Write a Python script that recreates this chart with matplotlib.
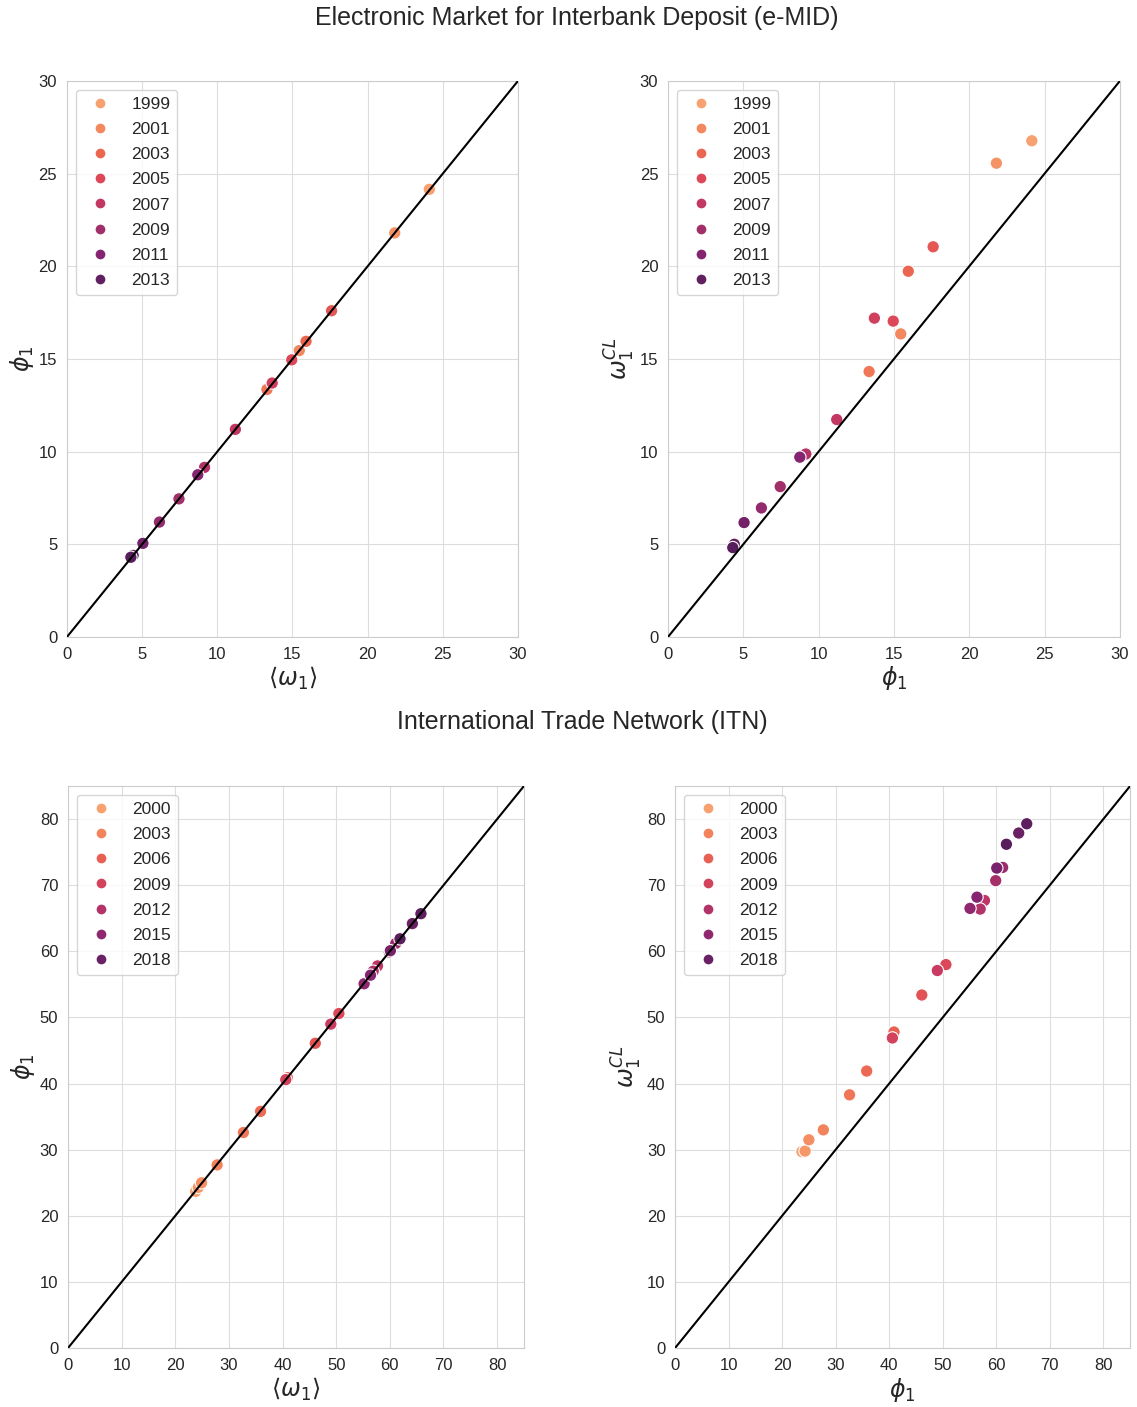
import numpy as np
import matplotlib; matplotlib.use("Agg")
import matplotlib.pyplot as plt
from matplotlib.lines import Line2D
from matplotlib.colors import LinearSegmentedColormap
import seaborn as sns

# e-MID, one point per year
emid_years = list(range(1999, 2015))
emid_omega_mean = [24.1, 21.8, 15.45, 13.3, 15.9, 17.6, 14.95, 13.65, 11.2, 9.15, 7.45, 6.15, 8.7, 5.05, 4.4, 4.25]
emid_phi = [24.15, 21.8, 15.45, 13.35, 15.95, 17.6, 14.95, 13.7, 11.2, 9.15, 7.45, 6.2, 8.75, 5.05, 4.4, 4.3]
emid_omega_cl = [26.77, 25.56, 16.35, 14.32, 19.73, 21.05, 17.04, 17.2, 11.73, 9.87, 8.11, 6.96, 9.7, 6.17, 5.0, 4.82]
emid_legend = [1999, 2001, 2003, 2005, 2007, 2009, 2011, 2013]

# ITN, one point per year
itn_years = list(range(2000, 2021))
itn_omega_mean = [23.8, 24.3, 24.9, 27.8, 32.7, 35.9, 40.9, 46.1, 50.5, 40.6, 49.0,
                  57.7, 56.9, 59.9, 61.1, 55.2, 56.4, 60.1, 64.2, 65.8, 61.9]
itn_phi = [23.7, 24.3, 25.0, 27.7, 32.6, 35.8, 40.9, 46.1, 50.6, 40.6, 49.0,
           57.8, 57.0, 59.9, 61.2, 55.1, 56.4, 60.1, 64.2, 65.7, 61.9]
itn_omega_cl = [29.7, 29.8, 31.5, 33.0, 38.3, 41.9, 47.8, 53.4, 58.0, 46.9, 57.1,
                67.7, 66.4, 70.7, 72.7, 66.5, 68.2, 72.6, 77.9, 79.3, 76.2]
itn_legend = [2000, 2003, 2006, 2009, 2012, 2015, 2018]

sns.set_style("whitegrid")
plt.rcParams["font.family"] = ["Liberation Sans", "DejaVu Sans"]
plt.rcParams.update({"xtick.labelsize": 12, "ytick.labelsize": 12,
                     "axes.edgecolor": "#cccccc", "grid.color": "#dddddd"})
# orange -> purple, sampled from the reference legend
cmap = LinearSegmentedColormap.from_list("yrs", [
    (0.0, "#f7a070"), (2/15, "#f3875e"), (4/15, "#eb6651"), (6/15, "#dd4858"),
    (8/15, "#c33763"), (10/15, "#a12f6a"), (12/15, "#852470"), (14/15, "#61205f"),
    (1.0, "#581d5b")])

fig = plt.figure(figsize=(11.37, 14.07), dpi=100)
boxes = [[0.0589, 0.5473, 0.3967, 0.3952], [0.5875, 0.5473, 0.3975, 0.3952],
         [0.0598, 0.0419, 0.4010, 0.3994], [0.5937, 0.0419, 0.4002, 0.3994]]
axes = [fig.add_axes(b) for b in boxes]

panels = [
    (emid_omega_mean, emid_phi, emid_years, emid_legend, 30, r"$\langle\omega_1\rangle$", r"$\phi_1$"),
    (emid_phi, emid_omega_cl, emid_years, emid_legend, 30, r"$\phi_1$", r"$\omega_1^{CL}$"),
    (itn_omega_mean, itn_phi, itn_years, itn_legend, 85, r"$\langle\omega_1\rangle$", r"$\phi_1$"),
    (itn_phi, itn_omega_cl, itn_years, itn_legend, 85, r"$\phi_1$", r"$\omega_1^{CL}$"),
]

for ax, (x, y, yrs, leg, lim, xl, yl) in zip(axes, panels):
    norm = plt.Normalize(min(yrs), max(yrs))
    ax.scatter(x, y, c=[cmap(norm(v)) for v in yrs], s=80, edgecolors="white",
               linewidths=0.8, zorder=2)
    ax.plot([0, lim], [0, lim], color="black", lw=1.5, zorder=3)
    ax.set_xlim(0, lim); ax.set_ylim(0, lim)
    ax.set_xlabel(xl, fontsize=17, labelpad=2)
    ax.set_ylabel(yl, fontsize=17, labelpad=2)
    handles = [Line2D([], [], marker="o", ls="", color=cmap(norm(v)), markersize=7,
                      markeredgecolor="none") for v in leg]
    ax.legend(handles, [str(v) for v in leg], loc="upper left", fontsize=12.5,
              labelspacing=0.58)

fig.text(0.507, 0.987, "Electronic Market for Interbank Deposit (e-MID)", ha="center",
         va="center", fontsize=18)
fig.text(0.512, 0.487, "International Trade Network (ITN)", ha="center",
         va="center", fontsize=18)
fig.savefig("out.png", dpi=100)
